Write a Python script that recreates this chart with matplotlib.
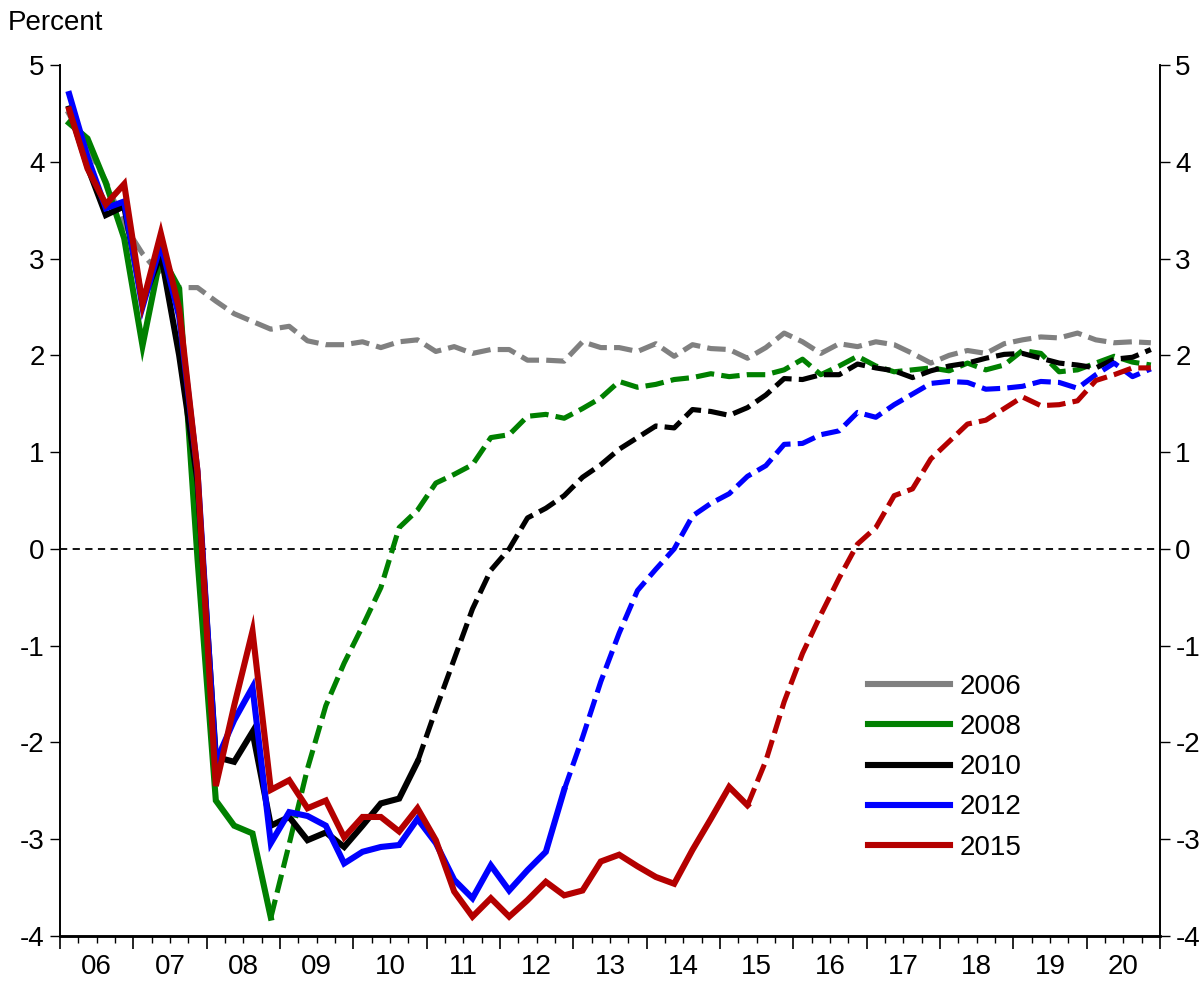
import numpy as np
import matplotlib
matplotlib.use("Agg")
import matplotlib.pyplot as plt
from matplotlib.lines import Line2D
from matplotlib.ticker import FixedLocator, FixedFormatter, NullFormatter

plt.rcParams['font.family'] = ['Liberation Sans', 'DejaVu Sans']

# ---------------- data (quarterly, 2006Q1 .. 2020Q4) ----------------
start_year = 2006
n_quarters = 60
year_labels = ['06', '07', '08', '09', '10', '11', '12', '13', '14',
               '15', '16', '17', '18', '19', '20']
series_names = ['2006', '2008', '2010', '2012', '2015']

gray_2006 = [4.50, 4.15, 3.80, 3.35, 3.05, 2.83, 2.70, 2.70, 2.56, 2.43,
             2.35, 2.27, 2.30, 2.15, 2.11, 2.11, 2.14, 2.08, 2.14, 2.16,
             2.04, 2.09, 2.02, 2.06, 2.06, 1.95, 1.95, 1.94, 2.14, 2.08,
             2.08, 2.04, 2.12, 1.99, 2.11, 2.07, 2.06, 1.97, 2.08, 2.23,
             2.14, 2.02, 2.12, 2.09, 2.14, 2.11, 2.02, 1.92, 2.00, 2.05,
             2.02, 2.12, 2.16, 2.19, 2.18, 2.23, 2.16, 2.13, 2.14, 2.13]

green_2008 = [4.40, 4.24, 3.78, 3.21, 2.10, 3.04, 2.69, -0.10, -2.60, -2.86,
              -2.94, -3.81, -3.05, -2.27, -1.62, -1.18, -0.80, -0.40, 0.22, 0.40,
              0.68, 0.77, 0.87, 1.15, 1.18, 1.37, 1.39, 1.35, 1.45, 1.56,
              1.73, 1.67, 1.70, 1.75, 1.77, 1.81, 1.78, 1.80, 1.80, 1.85,
              1.96, 1.80, 1.89, 1.99, 1.89, 1.83, 1.85, 1.87, 1.84, 1.92,
              1.85, 1.90, 2.05, 2.02, 1.83, 1.85, 1.92, 1.99, 1.93, 1.90]

black_2010 = [4.55, 3.95, 3.45, 3.54, 2.55, 3.05, 2.00, 0.70, -2.15, -2.20,
              -1.89, -2.86, -2.77, -3.01, -2.93, -3.08, -2.86, -2.63, -2.58, -2.20,
              -1.66, -1.14, -0.62, -0.22, 0.00, 0.32, 0.42, 0.55, 0.74, 0.87,
              1.03, 1.15, 1.27, 1.25, 1.44, 1.42, 1.38, 1.46, 1.59, 1.76,
              1.75, 1.80, 1.80, 1.91, 1.87, 1.84, 1.77, 1.84, 1.89, 1.92,
              1.97, 2.01, 2.02, 1.97, 1.92, 1.90, 1.87, 1.96, 1.98, 2.06]

blue_2012 = [4.70, 4.05, 3.52, 3.59, 2.50, 3.15, 2.40, 0.80, -2.20, -1.77,
             -1.43, -3.04, -2.72, -2.76, -2.86, -3.25, -3.13, -3.08, -3.06, -2.79,
             -3.04, -3.42, -3.61, -3.27, -3.53, -3.32, -3.13, -2.49, -1.95, -1.37,
             -0.87, -0.43, -0.21, 0.00, 0.34, 0.47, 0.57, 0.75, 0.86, 1.08,
             1.09, 1.18, 1.22, 1.41, 1.36, 1.49, 1.60, 1.71, 1.73, 1.72,
             1.65, 1.66, 1.68, 1.73, 1.72, 1.66, 1.80, 1.92, 1.78, 1.86]

red_2015 = [4.54, 3.93, 3.56, 3.77, 2.53, 3.26, 2.48, 0.80, -2.45, -1.62,
            -0.85, -2.49, -2.39, -2.68, -2.60, -2.98, -2.77, -2.77, -2.92, -2.68,
            -3.01, -3.54, -3.80, -3.61, -3.80, -3.63, -3.44, -3.58, -3.53, -3.23,
            -3.16, -3.28, -3.39, -3.46, -3.11, -2.79, -2.46, -2.65, -2.19, -1.58,
            -1.08, -0.68, -0.30, 0.05, 0.22, 0.55, 0.62, 0.93, 1.11, 1.29,
            1.33, 1.45, 1.57, 1.48, 1.49, 1.53, 1.74, 1.80, 1.87, 1.87]

# index of last actual (solid) quarter for each vintage
last_actual = [1, 11, 19, 27, 37]

# ---------------- styles ----------------
colors = ['#808080', '#008000', '#000000', '#0000FF', '#B40000']
series = [gray_2006, green_2008, black_2010, blue_2012, red_2015]
FS = 20

fig = plt.figure(figsize=(12.04, 9.81), dpi=100)
ax = fig.add_axes([60 / 1204, 1 - 936 / 981, 1100 / 1204, 871 / 981])

x = start_year + (np.arange(n_quarters) + 0.5) / 4.0

solid_lw = 4.4
dash_lw = 3.7
for vals, col, la in zip(series, colors, last_actual):
    v = np.asarray(vals, dtype=float)
    ax.plot(x[la:], v[la:], color=col, lw=dash_lw,
            linestyle=(0, (3.6, 1.4)), solid_capstyle='butt',
            dash_capstyle='butt', zorder=3)
for vals, col, la in zip(series, colors, last_actual):
    v = np.asarray(vals, dtype=float)
    ax.plot(x[:la + 1], v[:la + 1], color=col, lw=solid_lw,
            solid_joinstyle='miter', zorder=4)

ax.axhline(0, color='black', lw=1.3, linestyle=(0, (4, 3)), zorder=2)

ax.set_xlim(start_year, start_year + n_quarters / 4)
ax.set_ylim(-4, 5)

# x ticks
years = np.arange(start_year, start_year + n_quarters // 4 + 1)
ax.xaxis.set_major_locator(FixedLocator(years))
ax.xaxis.set_major_formatter(NullFormatter())
minor_pos = []
minor_lab = []
for i, y in enumerate(years[:-1]):
    for q in (0.25, 0.5, 0.75):
        minor_pos.append(y + q)
        minor_lab.append(year_labels[i] if q == 0.5 else '')
ax.xaxis.set_minor_locator(FixedLocator(minor_pos))
ax.xaxis.set_minor_formatter(FixedFormatter(minor_lab))
ax.tick_params(axis='x', which='major', direction='out', length=9, width=1.2,
               top=False)
ax.tick_params(axis='x', which='minor', direction='out', length=4.8, width=1.0,
               top=False, labelsize=FS, pad=8)

# y ticks
yt = np.arange(-4, 6, 1)
ax.set_yticks(yt)
ax.set_yticklabels([str(v) for v in yt])
ax.tick_params(axis='y', which='major', direction='out', length=7, width=1.0,
               labelsize=FS, pad=4)

ax2 = ax.twinx()
ax2.set_ylim(ax.get_ylim())
ax2.set_yticks(yt)
ax2.set_yticklabels([str(v) for v in yt])
ax2.tick_params(axis='y', which='major', direction='out', length=7, width=1.0,
                labelsize=FS, pad=4)

for a in (ax, ax2):
    a.spines['top'].set_visible(False)
    a.spines['left'].set_linewidth(1.2)
    a.spines['right'].set_linewidth(1.2)
    a.spines['bottom'].set_linewidth(1.8)

fig.text(8 / 1204, 1 - 23 / 981, 'Percent', fontsize=FS, va='center',
         ha='left')

handles = [Line2D([0], [0], color=c, lw=solid_lw) for c in colors]
leg = ax2.legend(handles, series_names, loc='upper left',
                 bbox_to_anchor=(868 / 1204, 1 - 674 / 981),
                 bbox_transform=fig.transFigure, frameon=False,
                 fontsize=FS, handlelength=2.95, handletextpad=0.36,
                 labelspacing=0.51, borderpad=0, borderaxespad=0)

fig.savefig('out.png', dpi=100)
